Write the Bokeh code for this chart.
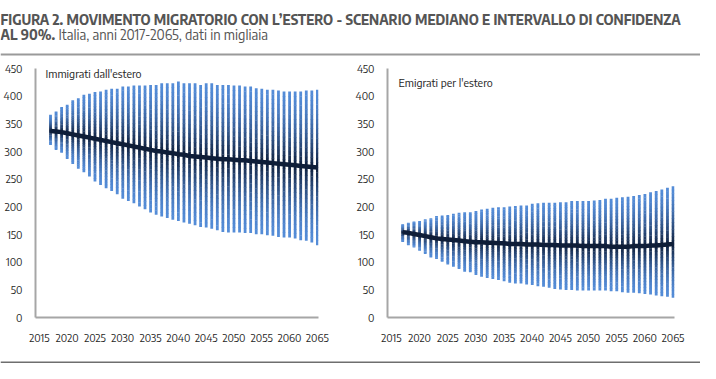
from bokeh.plotting import figure
from bokeh.layouts import column, row
from bokeh.models import Range1d, FixedTicker, Label, ColumnDataSource, Span
from bokeh.embed import file_html
from bokeh.resources import INLINE

# ---------------- data (thousands) ----------------
years = list(range(2017, 2066))

imm_med = [337, 336, 335, 333, 331, 329, 327, 325, 323, 321, 319, 317, 315, 313, 311,
           309, 307, 305, 303, 301, 300, 298, 297, 295, 294, 292, 291, 290, 289, 288,
           287, 286, 286, 285, 284, 284, 283, 282, 281, 280, 279, 278, 277, 276, 275,
           274, 273, 272, 271]
imm_hi = [366, 372, 380, 384, 392, 396, 402, 404, 407, 408, 411, 413, 413, 417, 417,
          419, 419, 419, 420, 420, 423, 423, 423, 426, 423, 423, 423, 420, 423, 423,
          420, 420, 420, 419, 419, 417, 417, 414, 413, 411, 411, 410, 408, 408, 408,
          408, 410, 410, 411]
imm_lo = [312, 303, 298, 287, 278, 269, 263, 255, 246, 240, 234, 229, 223, 215, 211,
          207, 201, 196, 190, 186, 183, 180, 177, 175, 172, 170, 167, 164, 163, 161,
          158, 155, 154, 154, 154, 153, 153, 151, 151, 149, 148, 146, 145, 145, 143,
          140, 139, 136, 131]

em_med = [154, 153, 151, 149, 147, 145, 143, 142, 141, 140, 139, 138, 137, 136, 136,
          135, 135, 134, 134, 133, 133, 133, 132, 132, 132, 131, 131, 131, 130, 130,
          130, 130, 129, 129, 129, 129, 129, 128, 128, 128, 128, 129, 129, 129, 130,
          130, 131, 132, 133]
em_hi = [168, 171, 173, 174, 177, 179, 183, 184, 185, 187, 189, 190, 190, 192, 195,
         196, 198, 199, 199, 200, 201, 202, 202, 205, 206, 207, 207, 207, 208, 208,
         210, 210, 210, 210, 211, 212, 214, 214, 216, 217, 218, 219, 221, 223, 226,
         228, 231, 234, 237]
em_lo = [137, 131, 127, 121, 115, 109, 106, 101, 96, 92, 88, 83, 82, 77, 74,
         72, 70, 68, 66, 63, 62, 62, 60, 59, 57, 56, 54, 52, 51, 50,
         50, 49, 49, 49, 49, 49, 49, 48, 48, 46, 45, 45, 44, 43, 42,
         40, 39, 38, 36]

y_ticks = [0, 50, 100, 150, 200, 250, 300, 350, 400, 450]
x_ticks = [2015, 2020, 2025, 2030, 2035, 2040, 2045, 2050, 2055, 2060, 2065]

title_1 = "FIGURA 2. MOVIMENTO MIGRATORIO CON L\u2019ESTERO - SCENARIO MEDIANO E INTERVALLO DI CONFIDENZA"
title_2b = "AL 90%."
title_2r = "Italia, anni 2017-2065, dati in migliaia"

# ---------------- style ----------------
FONT = "Encode Sans Semi Condensed"
EDGE = (84, 140, 216)
CORE = (14, 30, 58)
NSEG = 16
TITLE_COLOR = "#555555"
AXIS_COLOR = "#a6a6a6"


def mix(t):
    t = t ** 1.6
    r = [int(round(EDGE[i] + (CORE[i] - EDGE[i]) * t)) for i in range(3)]
    return "#%02x%02x%02x" % tuple(r)


def segments(med, lo, hi):
    xs, bots, tops, cols = [], [], [], []
    for x, m, l, h in zip(years, med, lo, hi):
        for end in (h, l):
            for k in range(NSEG):
                a = m + (end - m) * k / NSEG
                b = m + (end - m) * (k + 1) / NSEG
                t = 1.0 - (k + 0.5) / NSEG
                xs.append(x)
                bots.append(min(a, b) - 0.4)
                tops.append(max(a, b) + 0.4)
                cols.append(mix(t))
    return ColumnDataSource(dict(x=xs, bottom=bots, top=tops, color=cols))


def make_chart(med, lo, hi, label, lx, ly, width, left, right, xend):
    p = figure(width=width, height=295, output_backend="svg", toolbar_location=None,
               x_range=Range1d(2014.3, xend), y_range=Range1d(0, 450),
               min_border_left=left, min_border_right=right,
               min_border_top=10, min_border_bottom=36)
    p.outline_line_color = None
    p.grid.visible = False
    p.vbar(x="x", bottom="bottom", top="top", width=0.5, fill_color="color",
           line_color=None, source=segments(med, lo, hi))
    p.line(years, med, line_color="#0f1e38", line_width=4.5, line_join="round")
    for ax in (p.xaxis[0], p.yaxis[0]):
        ax.axis_line_color = AXIS_COLOR
        ax.axis_line_width = 2
        ax.major_tick_line_color = None
        ax.minor_tick_line_color = None
        ax.major_label_text_font = FONT
        ax.major_label_text_font_size = "11px"
        ax.major_label_text_color = "#262626"
    p.yaxis[0].ticker = FixedTicker(ticks=y_ticks)
    p.xaxis[0].ticker = FixedTicker(ticks=x_ticks)
    p.yaxis[0].major_label_standoff = 7
    p.xaxis[0].major_label_standoff = 10
    p.add_layout(Label(x=lx, y=ly, text=label, text_font=FONT, text_font_size="11.5px",
                       text_color="#262626", text_baseline="middle"))
    return p


p1 = make_chart(imm_med, imm_lo, imm_hi, "Immigrati dall'estero", 2016.1, 441,
                352, 29, 34, 2065.2)
p2 = make_chart(em_med, em_lo, em_hi, "Emigrati per l'estero", 2016.25, 424,
                348, 32, 26, 2065.25)

header = figure(width=700, height=58, output_backend="svg", toolbar_location=None,
                x_range=Range1d(0, 700), y_range=Range1d(58, 0), min_border=0)
header.axis.visible = False
header.grid.visible = False
header.outline_line_color = None
header.add_layout(Label(x=0, y=19, text=title_1, text_font=FONT, text_font_size="14px",
                        text_font_style="bold", text_color=TITLE_COLOR, text_baseline="alphabetic"))
header.add_layout(Label(x=0, y=34, text=title_2b, text_font=FONT, text_font_size="14px",
                        text_font_style="bold", text_color=TITLE_COLOR, text_baseline="alphabetic"))
header.add_layout(Label(x=58, y=34, text=title_2r, text_font=FONT, text_font_size="14px",
                        text_color=TITLE_COLOR, text_baseline="alphabetic"))
header.add_layout(Span(location=54, dimension="width", line_color="#9a9a9a", line_width=2))

footer = figure(width=700, height=10, output_backend="svg", toolbar_location=None,
                x_range=Range1d(0, 700), y_range=Range1d(10, 0), min_border=0)
footer.axis.visible = False
footer.grid.visible = False
footer.outline_line_color = None
footer.add_layout(Span(location=7, dimension="width", line_color="#6e6e6e", line_width=2))

layout = column(header, row(p1, p2), footer)
open("out.html", "w").write(file_html(layout, INLINE))
